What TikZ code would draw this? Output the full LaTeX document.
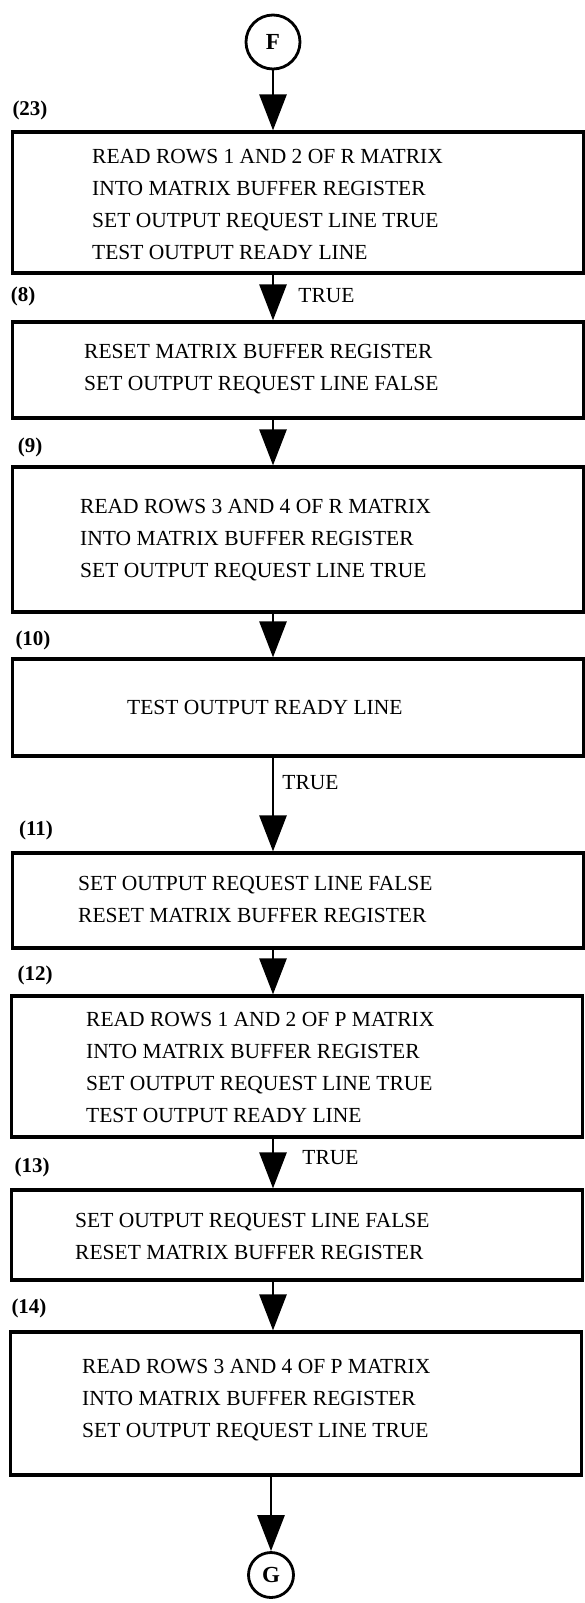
\documentclass[tikz,border=0pt]{standalone}
\usepackage{fontspec}
\setmainfont{Liberation Serif}
\usetikzlibrary{arrows.meta,positioning}

\begin{document}
\begin{tikzpicture}[x=1pt,y=-1pt]
  \tikzstyle{stepbox}=[rectangle, draw=black, line width=3.2pt, minimum width=571pt, inner sep=0pt]
  \tikzstyle{steptext}=[anchor=west, align=left, inner sep=0pt, font=\fontsize{21.5}{32}\selectfont]
  \tikzstyle{tag}=[inner sep=0pt, font=\bfseries\fontsize{21}{25}\selectfont]
  \tikzstyle{connector}=[circle, draw=black, line width=2.8pt, inner sep=0pt, font=\bfseries\fontsize{23}{26}\selectfont]
  \tikzstyle{line}=[draw, line width=2.8pt, -{Triangle[length=36pt,width=27pt]}]
  \tikzstyle{cond}=[anchor=west, inner sep=0pt, font=\fontsize{21.5}{25}\selectfont]

  \useasboundingbox (0,0) rectangle (584,1603);

  % entry connector
  \node [connector, minimum size=54pt] (F) at (273,42) {F};

  % (23)
  \node [tag] (tag23) at (30,110) {(23)};
  \node [stepbox, minimum height=141pt] (b23) at (298,202.5) {};
  \node [steptext] (t23) at (92,204.5) {
    READ ROWS 1 AND 2 OF R MATRIX\\
    INTO MATRIX BUFFER REGISTER\\
    SET OUTPUT REQUEST LINE TRUE\\
    TEST OUTPUT READY LINE
  };

  % (8)
  \node [tag] (tag8) at (23,296) {(8)};
  \node [stepbox, minimum height=96pt] (b8) at (298,370) {};
  \node [steptext] (t8) at (84,369) {
    RESET MATRIX BUFFER REGISTER\\
    SET OUTPUT REQUEST LINE FALSE
  };

  % (9)
  \node [tag] (tag9) at (30,447) {(9)};
  \node [stepbox, minimum height=145pt] (b9) at (298,539.5) {};
  \node [steptext] (t9) at (80,540) {
    READ ROWS 3 AND 4 OF R MATRIX\\
    INTO MATRIX BUFFER REGISTER\\
    SET OUTPUT REQUEST LINE TRUE
  };

  % (10)
  \node [tag] (tag10) at (33,640) {(10)};
  \node [stepbox, minimum height=97pt] (b10) at (298,707.5) {};
  \node [steptext] (t10) at (127,707) {TEST OUTPUT READY LINE};

  % (11)
  \node [tag] (tag11) at (36,830) {(11)};
  \node [stepbox, minimum height=95pt] (b11) at (298,900.5) {};
  \node [steptext] (t11) at (78,899) {
    SET OUTPUT REQUEST LINE FALSE\\
    RESET MATRIX BUFFER REGISTER
  };

  % (12)
  \node [tag] (tag12) at (35,975) {(12)};
  \node [stepbox, minimum height=141pt] (b12) at (297,1066.5) {};
  \node [steptext] (t12) at (86,1067) {
    READ ROWS 1 AND 2 OF P MATRIX\\
    INTO MATRIX BUFFER REGISTER\\
    SET OUTPUT REQUEST LINE TRUE\\
    TEST OUTPUT READY LINE
  };

  % (13)
  \node [tag] (tag13) at (32,1167) {(13)};
  \node [stepbox, minimum height=90pt] (b13) at (297,1235) {};
  \node [steptext] (t13) at (75,1236) {
    SET OUTPUT REQUEST LINE FALSE\\
    RESET MATRIX BUFFER REGISTER
  };

  % (14)
  \node [tag] (tag14) at (29,1308) {(14)};
  \node [stepbox, minimum height=143pt] (b14) at (296,1403.5) {};
  \node [steptext] (t14) at (82,1400) {
    READ ROWS 3 AND 4 OF P MATRIX\\
    INTO MATRIX BUFFER REGISTER\\
    SET OUTPUT REQUEST LINE TRUE
  };

  % exit connector
  \node [connector, minimum size=45pt] (G) at (271,1575) {G};

  \draw [line] (F) to (F |- b23.north);
  \draw [line] (F |- b23.south) to node [cond, pos=0.45, xshift=24pt] (true23) {TRUE} (F |- b8.north);
  \draw [line] (F |- b8.south) to (F |- b9.north);
  \draw [line] (F |- b9.south) to (F |- b10.north);
  \draw [line] (F |- b10.south) to node [cond, pos=0.27, xshift=8pt] (true10) {TRUE} (F |- b11.north);
  \draw [line] (F |- b11.south) to (F |- b12.north);
  \draw [line] (F |- b12.south) to node [cond, pos=0.38, xshift=28pt] (true12) {TRUE} (F |- b13.north);
  \draw [line] (F |- b13.south) to (F |- b14.north);
  \draw [line] (G |- b14.south) to (G);
\end{tikzpicture}
\end{document}
